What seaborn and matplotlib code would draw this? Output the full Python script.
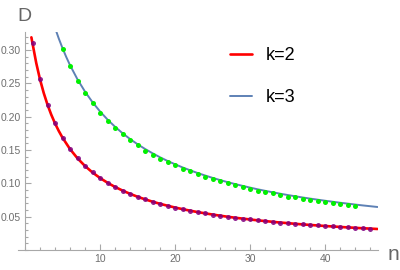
import numpy as np
import pandas as pd
import seaborn as sns
import matplotlib.pyplot as plt
from matplotlib.ticker import MultipleLocator, FormatStrFormatter

# -------------------------------
# Data
# -------------------------------

# k=2 : sampled points (purple) and curve (red)
n_pts2 = list(range(1, 47))
d_pts2 = [0.3100, 0.2559, 0.2180, 0.1900, 0.1685, 0.1514, 0.1375, 0.1260, 0.1163, 0.1080,
          0.1009, 0.0946, 0.0892, 0.0843, 0.0799, 0.0760, 0.0725, 0.0693, 0.0664, 0.0637,
          0.0613, 0.0590, 0.0569, 0.0550, 0.0532, 0.0515, 0.0499, 0.0484, 0.0471, 0.0458,
          0.0445, 0.0434, 0.0423, 0.0412, 0.0403, 0.0393, 0.0384, 0.0376, 0.0368, 0.0360,
          0.0353, 0.0346, 0.0339, 0.0333, 0.0326, 0.0321]

n_curve2 = [0.85, 1, 1.5, 2, 2.5, 3, 3.5, 4, 4.5, 5] + list(range(6, 48))
d_curve2 = [0.3190, 0.3100, 0.2804, 0.2559, 0.2354, 0.2180, 0.2030, 0.1900, 0.1786, 0.1685,
            0.1514, 0.1375, 0.1260, 0.1163, 0.1080, 0.1009, 0.0946, 0.0892, 0.0843, 0.0799,
            0.0760, 0.0725, 0.0693, 0.0664, 0.0637, 0.0613, 0.0590, 0.0569, 0.0550, 0.0532,
            0.0515, 0.0499, 0.0484, 0.0471, 0.0458, 0.0445, 0.0434, 0.0423, 0.0412, 0.0403,
            0.0393, 0.0384, 0.0376, 0.0368, 0.0360, 0.0353, 0.0346, 0.0339, 0.0333, 0.0326,
            0.0321, 0.0315]

# k=3 : sampled points (green) and curve (blue)
n_pts3 = list(range(5, 45))
d_pts3 = [0.302, 0.276, 0.254, 0.236, 0.220, 0.206, 0.194, 0.183, 0.174, 0.165,
          0.157, 0.149, 0.143, 0.137, 0.132, 0.127, 0.122, 0.118, 0.114, 0.110,
          0.106, 0.103, 0.100, 0.097, 0.094, 0.092, 0.089, 0.087, 0.085, 0.082,
          0.080, 0.079, 0.077, 0.075, 0.074, 0.072, 0.070, 0.069, 0.067, 0.066]

n_curve3 = [4, 4.5, 5, 5.5] + list(range(6, 48))
d_curve3 = [0.3334, 0.3173, 0.3028, 0.2895, 0.2773, 0.2559, 0.2376, 0.2217, 0.2079, 0.1957,
            0.1849, 0.1752, 0.1665, 0.1587, 0.1516, 0.1451, 0.1391, 0.1336, 0.1286, 0.1239,
            0.1196, 0.1155, 0.1118, 0.1082, 0.1049, 0.1018, 0.0989, 0.0962, 0.0936, 0.0911,
            0.0888, 0.0866, 0.0845, 0.0825, 0.0806, 0.0788, 0.0771, 0.0755, 0.0739, 0.0724,
            0.0709, 0.0696, 0.0682, 0.0669, 0.0657, 0.0645]

legend_labels = ['k=2', 'k=3']
x_ticks = [10, 20, 30, 40]
y_ticks = [0.05, 0.10, 0.15, 0.20, 0.25, 0.30]

# -------------------------------
# Plot
# -------------------------------
sns.set_style("white")
plt.rcParams['font.family'] = ['Liberation Sans', 'DejaVu Sans']

axis_col = '#a8a8a8'
label_col = '#6e6e6e'

fig = plt.figure(figsize=(4, 2.7), dpi=100)
ax = fig.add_axes([0.04375, 0.0741, 0.9, 0.8074])

sns.lineplot(x=n_curve2, y=d_curve2, ax=ax, color='#ff0000', linewidth=1.9,
             label=legend_labels[0], zorder=2)
sns.lineplot(x=n_curve3, y=d_curve3, ax=ax, color='#5e81b5', linewidth=1.4,
             label=legend_labels[1], zorder=2)
sns.scatterplot(x=n_pts2, y=d_pts2, ax=ax, color='#800080', s=13, linewidth=0,
                alpha=0.85, zorder=3, legend=False)
sns.scatterplot(x=n_pts3, y=d_pts3, ax=ax, color='#00f000', s=13, linewidth=0,
                zorder=3, legend=False)

ax.set_xlim(-1, 47)
ax.set_ylim(0, 0.327)

for side in ['top', 'right']:
    ax.spines[side].set_visible(False)
ax.spines['left'].set_position(('data', 0))
for side in ['left', 'bottom']:
    ax.spines[side].set_color(axis_col)
    ax.spines[side].set_linewidth(0.8)

ax.set_xticks(x_ticks)
ax.set_yticks(y_ticks)
ax.xaxis.set_minor_locator(MultipleLocator(2))
ax.yaxis.set_minor_locator(MultipleLocator(0.01))
ax.yaxis.set_major_formatter(FormatStrFormatter('%.2f'))
ax.tick_params(which='both', direction='in', color=axis_col, width=0.8,
               bottom=True, left=True, labelsize=7.5, labelcolor=label_col)
ax.tick_params(which='major', length=4, pad=3)
ax.tick_params(which='minor', length=2.5)
ax.set_xlabel('')
ax.set_ylabel('')

fig.text(17 / 400, 1 - 21 / 270, 'D', fontsize=14, color='#666666', va='baseline')
fig.text(388 / 400, 1 - 260 / 270, 'n', fontsize=15, color='#666666', va='baseline')

handles, labels = ax.get_legend_handles_labels()
leg = ax.legend(handles, labels, loc='upper left', bbox_to_anchor=(0.575, 0.826),
                bbox_transform=fig.transFigure, frameon=False, fontsize=13,
                handlelength=1.2, handletextpad=0.8, labelspacing=1.4,
                borderpad=0, borderaxespad=0)
for t in leg.get_texts():
    t.set_color('black')

fig.savefig('out.png', dpi=100)
